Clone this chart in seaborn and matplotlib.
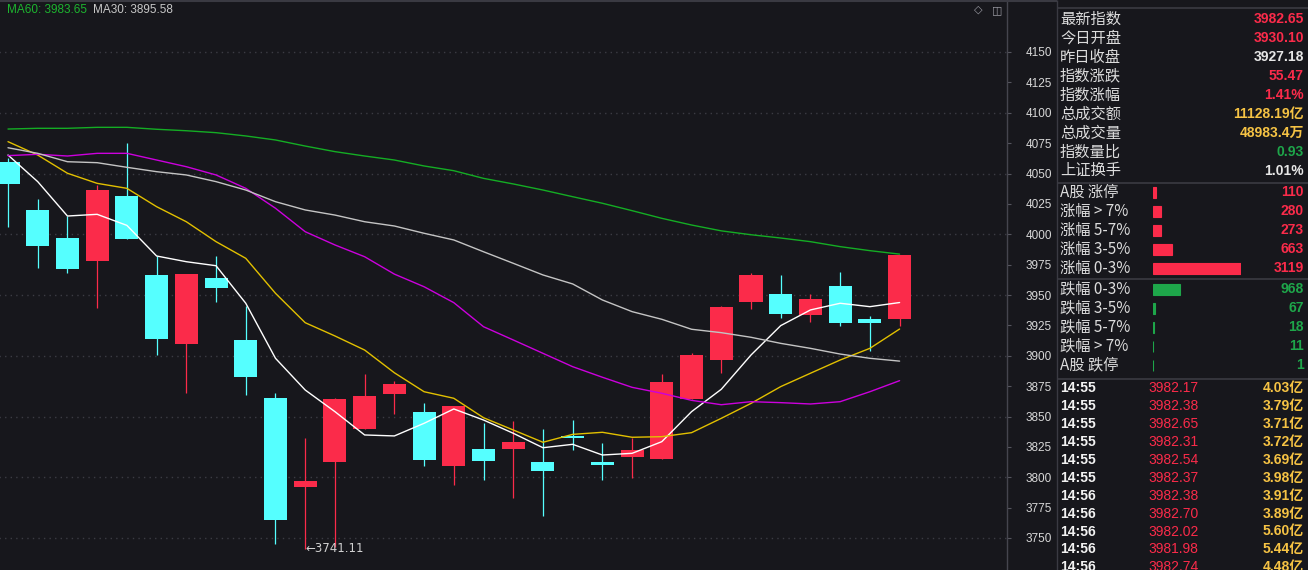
import numpy as np
import pandas as pd
import seaborn as sns
import matplotlib.pyplot as plt

# daily candles (index points)
opens = [4059.5, 4020.0, 3997.0, 3978.2, 4031.5, 3966.5, 3910.0, 3964.0, 3913.0, 3865.2,
         3792.2, 3812.8, 3840.0, 3868.8, 3853.7, 3809.5, 3823.3, 3823.5, 3812.6, 3834.0,
         3812.6, 3816.9, 3815.3, 3864.4, 3896.5, 3944.5, 3950.8, 3933.8, 3957.4, 3930.2, 3930.10]
highs = [4062.8, 4029.0, 4015.0, 4040.5, 4075.1, 3982.0, 3967.5, 3982.0, 3941.2, 3869.3,
         3832.3, 3865.0, 3885.0, 3879.2, 3861.1, 3859.0, 3844.7, 3846.3, 3839.7, 3847.1,
         3828.2, 3832.3, 3885.0, 3902.0, 3941.0, 3968.1, 3966.5, 3950.8, 3968.9, 3932.7, 3983.0]
lows = [4006.0, 3972.5, 3968.4, 3939.6, 3996.0, 3900.6, 3869.6, 3944.5, 3867.7, 3745.3,
        3741.11, 3742.8, 3840.0, 3852.3, 3809.5, 3793.9, 3798.0, 3783.2, 3768.4, 3822.7,
        3798.0, 3799.6, 3815.0, 3864.4, 3885.8, 3938.5, 3931.1, 3928.0, 3924.7, 3904.2, 3924.7]
closes = [4041.4, 3990.6, 3971.7, 4036.4, 3996.3, 3914.0, 3967.3, 3956.0, 3882.8, 3765.1,
          3796.9, 3864.4, 3866.9, 3876.7, 3814.4, 3858.6, 3813.6, 3829.0, 3805.4, 3832.3,
          3810.3, 3822.4, 3878.4, 3900.6, 3940.1, 3966.5, 3934.6, 3946.7, 3927.2, 3927.18, 3982.65]

# moving averages
ma5 = [4065.2, 4043.3, 4015.0, 4016.4, 4007.3, 3982.1, 3977.4, 3974.1, 3943.2, 3897.9,
       3871.8, 3854.0, 3834.8, 3834.0, 3844.4, 3856.2, 3847.1, 3836.2, 3824.3, 3827.1,
       3818.3, 3819.7, 3829.3, 3854.0, 3872.4, 3900.6, 3924.8, 3937.7, 3943.2, 3940.4, 3943.8]
ma10 = [4076.2, 4065.2, 4050.2, 4041.9, 4037.8, 4022.7, 4010.3, 3993.9, 3980.2, 3951.4,
        3927.2, 3916.3, 3904.7, 3886.0, 3870.4, 3865.0, 3849.0, 3838.9, 3828.8, 3835.3,
        3837.0, 3832.9, 3833.4, 3836.7, 3848.5, 3860.8, 3874.6, 3885.6, 3896.5, 3906.1, 3922.0]
ma20 = [4064.7, 4065.8, 4064.4, 4066.6, 4066.6, 4061.1, 4055.6, 4048.8, 4037.8, 4021.4,
        4002.1, 3991.2, 3981.5, 3967.2, 3956.8, 3943.7, 3923.9, 3913.0, 3902.0, 3891.0,
        3882.3, 3874.0, 3869.1, 3863.3, 3859.7, 3862.2, 3861.4, 3860.3, 3862.2, 3870.4, 3879.5]
ma30 = [4071.2, 4066.6, 4059.7, 4058.9, 4055.1, 4051.5, 4048.8, 4043.3, 4036.4, 4026.8,
        4020.0, 4015.8, 4010.3, 4006.8, 4000.8, 3995.3, 3985.6, 3976.1, 3966.5, 3959.1,
        3945.9, 3936.3, 3930.0, 3921.8, 3919.0, 3915.2, 3910.2, 3906.1, 3901.4, 3897.9, 3895.58]
ma60 = [4086.6, 4087.2, 4087.2, 4088.0, 4088.0, 4086.4, 4085.2, 4083.6, 4080.9, 4077.6,
        4072.6, 4068.0, 4064.4, 4061.1, 4056.2, 4052.3, 4046.0, 4041.4, 4036.4, 4030.9,
        4025.5, 4019.4, 4013.1, 4007.6, 4002.8, 3999.6, 3996.9, 3993.9, 3989.8, 3986.5, 3983.65]

# right panel
info_labels = ["最新指数", "今日开盘", "昨日收盘", "指数涨跌", "指数涨幅",
               "总成交额", "总成交量", "指数量比", "上证换手"]
info_values = ["3982.65", "3930.10", "3927.18", "55.47", "1.41%",
               "11128.19亿", "48983.4万", "0.93", "1.01%"]
rise_labels = ["A股 涨停", "涨幅 > 7%", "涨幅 5-7%", "涨幅 3-5%", "涨幅 0-3%"]
rise_counts = [110, 280, 273, 663, 3119]
fall_labels = ["跌幅 0-3%", "跌幅 3-5%", "跌幅 5-7%", "跌幅 > 7%", "A股 跌停"]
fall_counts = [968, 67, 18, 11, 1]
tick_times = ["14:55"] * 6 + ["14:56"] * 5
tick_prices = [3982.17, 3982.38, 3982.65, 3982.31, 3982.54, 3982.37,
               3982.38, 3982.70, 3982.02, 3981.98, 3982.74]
tick_amounts = [4.03, 3.79, 3.71, 3.72, 3.69, 3.98, 3.91, 3.89, 5.60, 5.44, 4.48]

bg = "#17171c"
red = "#fb2b4a"
cyan = "#55ffff"
green = "#1ea64a"
yellow = "#f6c344"
white = "#e6e6e6"
gridc = "#3c3c44"

sns.set_style("dark", rc={"axes.facecolor": bg, "figure.facecolor": bg})
plt.rcParams["font.family"] = ["Noto Sans CJK SC", "DejaVu Sans"]

W, H = 1308, 570
fig = plt.figure(figsize=(W / 100, H / 100), dpi=100)

# main candle chart
ax = fig.add_axes([0, 0, 1007 / W, 1])
ax.set_facecolor(bg)
step = 29.72
ppu = 1.215
ax.set_xlim(-8 / step, (1007 - 8) / step)
ax.set_ylim(4150 - 518 / ppu, 4150 + 52 / ppu)
ax.grid(False)

ax.hlines(np.arange(3750, 4151, 50), -1, 40, colors=gridc,
          linestyles=(0, (1, 3)), lw=1, zorder=1)

idx = np.arange(len(closes))
o = np.array(opens)
c = np.array(closes)
up = c >= o
cols = np.where(up, red, cyan)
ax.vlines(idx, lows, highs, colors=cols, lw=0.9, zorder=2)
ax.bar(idx, np.maximum(np.abs(c - o), 1.2), bottom=np.minimum(o, c),
       width=0.774, color=cols, linewidth=0, zorder=3)

ma_df = pd.DataFrame({"i": idx, "MA5": ma5, "MA10": ma10, "MA20": ma20,
                      "MA30": ma30, "MA60": ma60})
ma_colors = {"MA5": "#ffffff", "MA10": "#e2c000", "MA20": "#cc00dd",
             "MA30": "#c4c4c4", "MA60": "#14ad24"}
for name, col in ma_colors.items():
    sns.lineplot(data=ma_df, x="i", y=name, color=col, lw=1, ax=ax, zorder=4)
ax.set_xlabel("")
ax.set_ylabel("")

ax.text(10, lows[10], "←" + f"{lows[10]:.2f}", color="#d0d0d0", fontsize=8.5,
        ha="left", va="center", family=["DejaVu Sans"], zorder=5)

ax.set_xticks([])
ax.set_yticks(np.arange(3750, 4151, 25))
ax.yaxis.tick_right()
ax.tick_params(axis="y", which="both", right=True, left=False, labelright=True,
               labelleft=False, length=3, width=0.8, color="#55555e",
               labelcolor="#d8d8d8", labelsize=8.5, pad=10.5)
for lab in ax.get_yticklabels():
    lab.set_fontfamily("Liberation Sans")
for s in ["left", "top", "bottom"]:
    ax.spines[s].set_visible(False)
ax.spines["right"].set_color("#45454e")
ax.spines["right"].set_linewidth(1)

# overlay in pixel coords for texts and separators
ov = fig.add_axes([0, 0, 1, 1])
ov.set_xlim(0, W)
ov.set_ylim(H, 0)
ov.axis("off")
ov.patch.set_alpha(0)

ov.hlines(1, 0, 1057, colors="#3a3a42", lw=1.5)
ov.vlines(1057, 0, H, colors="#3a3a42", lw=1)
ov.hlines([8.3, 182.7, 279.3, 379], 1057, W, colors="#3a3a42", lw=1.2)

ov.text(7, 10, f"MA60: {ma60[-1]:.2f}", color="#1db52f", fontsize=8.5,
        ha="left", va="center", family=["Liberation Sans"])
ov.text(93, 10, f"MA30: {ma30[-1]:.2f}", color="#c8c8c8", fontsize=8.5,
        ha="left", va="center", family=["Liberation Sans"])
ov.text(978, 10, "◇", color="#9a9aa2", fontsize=8, ha="center", va="center",
        family=["DejaVu Sans"])
ov.text(997, 10, "◫", color="#9a9aa2", fontsize=8, ha="center", va="center",
        family=["DejaVu Sans"])

val_font = ["Liberation Sans", "Noto Sans CJK SC"]
info_colors = [red, red, white, red, red, yellow, yellow, green, white]
for k, (lab, val) in enumerate(zip(info_labels, info_values)):
    y = 19.3 + 18.93 * k
    ov.text(1060, y, lab, color="#dcdcdc", fontsize=11, ha="left", va="center")
    ov.text(1304, y, val, color=info_colors[k], fontsize=10, fontweight="bold",
            ha="right", va="center", family=val_font)

for k, lab in enumerate(rise_labels + fall_labels):
    y = 192.3 + 18.93 * k + (2.4 if k >= 5 else 0)
    cnt = (rise_counts + fall_counts)[k]
    ov.text(1060, y, lab, color="#dcdcdc", fontsize=11, ha="left", va="center")
    ov.text(1304, y, str(cnt), color=red if k < 5 else green, fontsize=10,
            fontweight="bold", ha="right", va="center", family=val_font)

# breadth bars
for labels, counts, col, top in [(rise_labels, rise_counts, red, 182.8),
                                 (fall_labels, fall_counts, green, 280.0)]:
    bax = fig.add_axes([1153 / W, 1 - (top + 94.7) / H, 88 / W, 94.7 / H])
    bdf = pd.DataFrame({"label": labels, "count": counts})
    sns.barplot(data=bdf, x="count", y="label", orient="h", color=col,
                saturation=1, width=0.58, edgecolor=col, linewidth=0.8, ax=bax)
    bax.set_xlim(0, max(rise_counts))
    bax.set_ylim(4.5, -0.5)
    bax.axis("off")
    bax.patch.set_alpha(0)

# tick-by-tick list
for k in range(len(tick_times)):
    y = 388.3 + 17.9 * k
    ov.text(1060, y, tick_times[k], color="#f2f2f2", fontsize=10, fontweight="bold",
            ha="left", va="center", family=val_font)
    ov.text(1148, y, f"{tick_prices[k]:.2f}", color=red, fontsize=10,
            ha="left", va="center", family=val_font)
    ov.text(1304, y, f"{tick_amounts[k]:.2f}亿", color=yellow, fontsize=10,
            fontweight="bold", ha="right", va="center", family=val_font)

fig.savefig("out.png", dpi=100, facecolor=bg)
